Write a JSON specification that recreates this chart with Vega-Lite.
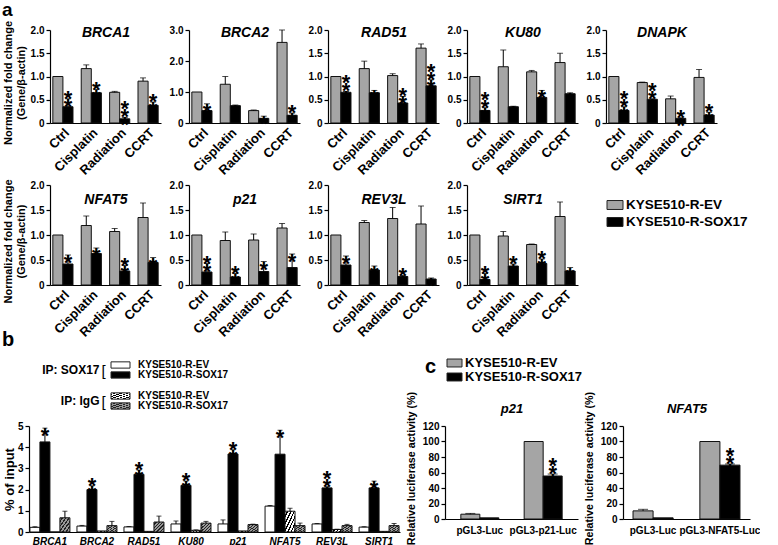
{
"$schema": "https://vega.github.io/schema/vega-lite/v6.json",
"padding": {"left": 2, "top": 1, "right": 0, "bottom": 0},
"title": {"text": "a", "anchor": "start", "fontSize": 19, "fontStyle": "normal", "fontWeight": "bold", "offset": 0, "frame": "bounds"},
"datasets": {
"a": [
{"gene":"BRCA1","treat":"Ctrl","cell":"EV","v":1.0,"hi":1.0,"ns":0},
{"gene":"BRCA1","treat":"Ctrl","cell":"SOX17","v":0.35,"hi":0.52,"ns":2},
{"gene":"BRCA1","treat":"Cisplatin","cell":"EV","v":1.17,"hi":1.25,"ns":0},
{"gene":"BRCA1","treat":"Cisplatin","cell":"SOX17","v":0.65,"hi":0.72,"ns":2},
{"gene":"BRCA1","treat":"Radiation","cell":"EV","v":0.66,"hi":0.68,"ns":0},
{"gene":"BRCA1","treat":"Radiation","cell":"SOX17","v":0.09,"hi":0.12,"ns":3},
{"gene":"BRCA1","treat":"CCRT","cell":"EV","v":0.9,"hi":0.97,"ns":0},
{"gene":"BRCA1","treat":"CCRT","cell":"SOX17","v":0.38,"hi":0.45,"ns":2},
{"gene":"BRCA2","treat":"Ctrl","cell":"EV","v":1.0,"hi":1.0,"ns":0},
{"gene":"BRCA2","treat":"Ctrl","cell":"SOX17","v":0.4,"hi":0.62,"ns":1},
{"gene":"BRCA2","treat":"Cisplatin","cell":"EV","v":1.25,"hi":1.5,"ns":0},
{"gene":"BRCA2","treat":"Cisplatin","cell":"SOX17","v":0.56,"hi":0.58,"ns":1},
{"gene":"BRCA2","treat":"Radiation","cell":"EV","v":0.4,"hi":0.42,"ns":0},
{"gene":"BRCA2","treat":"Radiation","cell":"SOX17","v":0.15,"hi":0.22,"ns":1},
{"gene":"BRCA2","treat":"CCRT","cell":"EV","v":2.6,"hi":3.0,"ns":0},
{"gene":"BRCA2","treat":"CCRT","cell":"SOX17","v":0.25,"hi":0.32,"ns":2},
{"gene":"RAD51","treat":"Ctrl","cell":"EV","v":1.0,"hi":1.0,"ns":0},
{"gene":"RAD51","treat":"Ctrl","cell":"SOX17","v":0.66,"hi":0.68,"ns":3},
{"gene":"RAD51","treat":"Cisplatin","cell":"EV","v":1.17,"hi":1.33,"ns":0},
{"gene":"RAD51","treat":"Cisplatin","cell":"SOX17","v":0.65,"hi":0.7,"ns":1},
{"gene":"RAD51","treat":"Radiation","cell":"EV","v":1.02,"hi":1.06,"ns":0},
{"gene":"RAD51","treat":"Radiation","cell":"SOX17","v":0.43,"hi":0.57,"ns":2},
{"gene":"RAD51","treat":"CCRT","cell":"EV","v":1.61,"hi":1.7,"ns":0},
{"gene":"RAD51","treat":"CCRT","cell":"SOX17","v":0.8,"hi":0.93,"ns":3},
{"gene":"KU80","treat":"Ctrl","cell":"EV","v":1.0,"hi":1.0,"ns":0},
{"gene":"KU80","treat":"Ctrl","cell":"SOX17","v":0.27,"hi":0.33,"ns":3},
{"gene":"KU80","treat":"Cisplatin","cell":"EV","v":1.21,"hi":1.57,"ns":0},
{"gene":"KU80","treat":"Cisplatin","cell":"SOX17","v":0.35,"hi":0.36,"ns":1},
{"gene":"KU80","treat":"Radiation","cell":"EV","v":1.1,"hi":1.13,"ns":0},
{"gene":"KU80","treat":"Radiation","cell":"SOX17","v":0.55,"hi":0.7,"ns":1},
{"gene":"KU80","treat":"CCRT","cell":"EV","v":1.3,"hi":1.5,"ns":0},
{"gene":"KU80","treat":"CCRT","cell":"SOX17","v":0.63,"hi":0.65,"ns":1},
{"gene":"DNAPK","treat":"Ctrl","cell":"EV","v":1.0,"hi":1.0,"ns":0},
{"gene":"DNAPK","treat":"Ctrl","cell":"SOX17","v":0.27,"hi":0.35,"ns":3},
{"gene":"DNAPK","treat":"Cisplatin","cell":"EV","v":0.87,"hi":0.88,"ns":0},
{"gene":"DNAPK","treat":"Cisplatin","cell":"SOX17","v":0.51,"hi":0.52,"ns":3},
{"gene":"DNAPK","treat":"Radiation","cell":"EV","v":0.52,"hi":0.58,"ns":0},
{"gene":"DNAPK","treat":"Radiation","cell":"SOX17","v":0.1,"hi":0.11,"ns":2},
{"gene":"DNAPK","treat":"CCRT","cell":"EV","v":0.98,"hi":1.15,"ns":0},
{"gene":"DNAPK","treat":"CCRT","cell":"SOX17","v":0.17,"hi":0.23,"ns":2},
{"gene":"NFAT5","treat":"Ctrl","cell":"EV","v":1.0,"hi":1.0,"ns":0},
{"gene":"NFAT5","treat":"Ctrl","cell":"SOX17","v":0.42,"hi":0.6,"ns":1},
{"gene":"NFAT5","treat":"Cisplatin","cell":"EV","v":1.19,"hi":1.38,"ns":0},
{"gene":"NFAT5","treat":"Cisplatin","cell":"SOX17","v":0.63,"hi":0.74,"ns":1},
{"gene":"NFAT5","treat":"Radiation","cell":"EV","v":1.07,"hi":1.13,"ns":0},
{"gene":"NFAT5","treat":"Radiation","cell":"SOX17","v":0.28,"hi":0.39,"ns":2},
{"gene":"NFAT5","treat":"CCRT","cell":"EV","v":1.35,"hi":1.64,"ns":0},
{"gene":"NFAT5","treat":"CCRT","cell":"SOX17","v":0.45,"hi":0.55,"ns":1},
{"gene":"p21","treat":"Ctrl","cell":"EV","v":1.0,"hi":1.0,"ns":0},
{"gene":"p21","treat":"Ctrl","cell":"SOX17","v":0.26,"hi":0.43,"ns":2},
{"gene":"p21","treat":"Cisplatin","cell":"EV","v":0.89,"hi":1.06,"ns":0},
{"gene":"p21","treat":"Cisplatin","cell":"SOX17","v":0.16,"hi":0.23,"ns":2},
{"gene":"p21","treat":"Radiation","cell":"EV","v":0.9,"hi":1.02,"ns":0},
{"gene":"p21","treat":"Radiation","cell":"SOX17","v":0.27,"hi":0.47,"ns":1},
{"gene":"p21","treat":"CCRT","cell":"EV","v":1.14,"hi":1.23,"ns":0},
{"gene":"p21","treat":"CCRT","cell":"SOX17","v":0.35,"hi":0.62,"ns":1},
{"gene":"REV3L","treat":"Ctrl","cell":"EV","v":1.0,"hi":1.0,"ns":0},
{"gene":"REV3L","treat":"Ctrl","cell":"SOX17","v":0.4,"hi":0.58,"ns":1},
{"gene":"REV3L","treat":"Cisplatin","cell":"EV","v":1.25,"hi":1.29,"ns":0},
{"gene":"REV3L","treat":"Cisplatin","cell":"SOX17","v":0.3,"hi":0.38,"ns":1},
{"gene":"REV3L","treat":"Radiation","cell":"EV","v":1.33,"hi":1.55,"ns":0},
{"gene":"REV3L","treat":"Radiation","cell":"SOX17","v":0.17,"hi":0.19,"ns":2},
{"gene":"REV3L","treat":"CCRT","cell":"EV","v":1.22,"hi":1.58,"ns":0},
{"gene":"REV3L","treat":"CCRT","cell":"SOX17","v":0.12,"hi":0.14,"ns":1},
{"gene":"SIRT1","treat":"Ctrl","cell":"EV","v":1.0,"hi":1.0,"ns":0},
{"gene":"SIRT1","treat":"Ctrl","cell":"SOX17","v":0.11,"hi":0.23,"ns":2},
{"gene":"SIRT1","treat":"Cisplatin","cell":"EV","v":0.98,"hi":1.07,"ns":0},
{"gene":"SIRT1","treat":"Cisplatin","cell":"SOX17","v":0.38,"hi":0.42,"ns":2},
{"gene":"SIRT1","treat":"Radiation","cell":"EV","v":0.81,"hi":0.82,"ns":0},
{"gene":"SIRT1","treat":"Radiation","cell":"SOX17","v":0.43,"hi":0.52,"ns":2},
{"gene":"SIRT1","treat":"CCRT","cell":"EV","v":1.37,"hi":1.66,"ns":0},
{"gene":"SIRT1","treat":"CCRT","cell":"SOX17","v":0.28,"hi":0.35,"ns":1}
],
"b": [
{"gene":"BRCA1","s":"SOX17-EV","v":0.22,"hi":0.25,"ns":0},
{"gene":"BRCA1","s":"SOX17-SOX17","v":4.25,"hi":4.9,"ns":1},
{"gene":"BRCA1","s":"IgG-EV","v":0.0,"hi":0.0,"ns":0},
{"gene":"BRCA1","s":"IgG-SOX17","v":0.67,"hi":0.98,"ns":0},
{"gene":"BRCA2","s":"SOX17-EV","v":0.28,"hi":0.31,"ns":0},
{"gene":"BRCA2","s":"SOX17-SOX17","v":2.0,"hi":2.18,"ns":2},
{"gene":"BRCA2","s":"IgG-EV","v":0.05,"hi":0.05,"ns":0},
{"gene":"BRCA2","s":"IgG-SOX17","v":0.3,"hi":0.5,"ns":0},
{"gene":"RAD51","s":"SOX17-EV","v":0.24,"hi":0.26,"ns":0},
{"gene":"RAD51","s":"SOX17-SOX17","v":2.72,"hi":2.92,"ns":2},
{"gene":"RAD51","s":"IgG-EV","v":0.03,"hi":0.03,"ns":0},
{"gene":"RAD51","s":"IgG-SOX17","v":0.47,"hi":0.75,"ns":0},
{"gene":"KU80","s":"SOX17-EV","v":0.38,"hi":0.52,"ns":0},
{"gene":"KU80","s":"SOX17-SOX17","v":2.2,"hi":2.4,"ns":2},
{"gene":"KU80","s":"IgG-EV","v":0.08,"hi":0.1,"ns":0},
{"gene":"KU80","s":"IgG-SOX17","v":0.42,"hi":0.5,"ns":0},
{"gene":"p21","s":"SOX17-EV","v":0.38,"hi":0.57,"ns":0},
{"gene":"p21","s":"SOX17-SOX17","v":3.68,"hi":3.88,"ns":2},
{"gene":"p21","s":"IgG-EV","v":0.05,"hi":0.05,"ns":0},
{"gene":"p21","s":"IgG-SOX17","v":0.35,"hi":0.37,"ns":0},
{"gene":"NFAT5","s":"SOX17-EV","v":1.22,"hi":1.25,"ns":0},
{"gene":"NFAT5","s":"SOX17-SOX17","v":3.67,"hi":4.8,"ns":1},
{"gene":"NFAT5","s":"IgG-EV","v":0.98,"hi":1.12,"ns":0},
{"gene":"NFAT5","s":"IgG-SOX17","v":0.3,"hi":0.42,"ns":0},
{"gene":"REV3L","s":"SOX17-EV","v":0.38,"hi":0.4,"ns":0},
{"gene":"REV3L","s":"SOX17-SOX17","v":2.08,"hi":2.14,"ns":3},
{"gene":"REV3L","s":"IgG-EV","v":0.12,"hi":0.13,"ns":0},
{"gene":"REV3L","s":"IgG-SOX17","v":0.3,"hi":0.36,"ns":0},
{"gene":"SIRT1","s":"SOX17-EV","v":0.23,"hi":0.25,"ns":0},
{"gene":"SIRT1","s":"SOX17-SOX17","v":2.08,"hi":2.4,"ns":1},
{"gene":"SIRT1","s":"IgG-EV","v":0.03,"hi":0.03,"ns":0},
{"gene":"SIRT1","s":"IgG-SOX17","v":0.3,"hi":0.4,"ns":0}
],
"c": [
{"panel":"p21","plasmid":"pGL3-Luc","cell":"EV","v":6.2,"hi":7.2,"ns":0},
{"panel":"p21","plasmid":"pGL3-Luc","cell":"SOX17","v":1.5,"hi":1.5,"ns":0},
{"panel":"p21","plasmid":"pGL3-p21-Luc","cell":"EV","v":100,"hi":100,"ns":0},
{"panel":"p21","plasmid":"pGL3-p21-Luc","cell":"SOX17","v":55.5,"hi":58,"ns":3},
{"panel":"NFAT5","plasmid":"pGL3-Luc","cell":"EV","v":10.5,"hi":12.5,"ns":0},
{"panel":"NFAT5","plasmid":"pGL3-Luc","cell":"SOX17","v":1.5,"hi":1.5,"ns":0},
{"panel":"NFAT5","plasmid":"pGL3-NFAT5-Luc","cell":"EV","v":100,"hi":100,"ns":0},
{"panel":"NFAT5","plasmid":"pGL3-NFAT5-Luc","cell":"SOX17","v":69.5,"hi":71,"ns":3}
],
"lega": [
{"cell":"EV","label":"KYSE510-R-EV"},
{"cell":"SOX17","label":"KYSE510-R-SOX17"}
],
"legb": [
{"ip":"IP: SOX17","cell":"EV","s":"SOX17-EV","label":"KYSE510-R-EV"},
{"ip":"IP: SOX17","cell":"SOX17","s":"SOX17-SOX17","label":"KYSE510-R-SOX17"},
{"ip":"IP: IgG","cell":"EV","s":"IgG-EV","label":"KYSE510-R-EV"},
{"ip":"IP: IgG","cell":"SOX17","s":"IgG-SOX17","label":"KYSE510-R-SOX17"}
]
},
"resolve": {"scale": {"xOffset": "independent", "yOffset": "independent"}},
"spacing": -10,
"vconcat": [
{
"spacing": 0,
"resolve": {"scale": {"xOffset": "independent", "yOffset": "independent"}},
"vconcat": [
{
"bounds": "flush", "spacing": 28,
"resolve": {"scale": {"xOffset": "independent", "yOffset": "independent"}},
"hconcat": [
{"width":111,"height":93,"data":{"name":"a"},"transform":[{"filter":"datum.gene === 'BRCA1'"}],"resolve":{"axis":{"x":"independent"}},
"encoding":{"x":{"field":"treat","type":"nominal","sort":["Ctrl","Cisplatin","Radiation","CCRT"],"scale":{"paddingInner":0.29,"paddingOuter":0.1},"axis":null},"xOffset":{"field":"cell","type":"nominal","sort":["EV","SOX17"]}},
"layer":[
{"mark":{"type":"bar","stroke":"#111","strokeWidth":1},"encoding":{"x":{"field":"treat","type":"nominal","sort":["Ctrl","Cisplatin","Radiation","CCRT"],"scale":{"paddingInner":0.29,"paddingOuter":0.1},"title":null,"axis":{"orient":"bottom","labels":true,"domain":true,"labelAngle":-45}},"y":{"field":"v","type":"quantitative","scale":{"domain":[0,2]},"axis":{"values":[0,0.5,1,1.5,2],"tickCount":10,"labelOverlap":false,"labelExpr":"datum.value === 0 ? '0' : format(datum.value, '.1f')","titleY":52.5},"title":["Normalized fold change","(Gene/β-actin)"]},"color":{"field":"cell","type":"nominal","scale":{"domain":["EV","SOX17"],"range":["#a5a5a5","#000000"]},"legend":null}}},
{"transform":[{"filter":"datum.hi > datum.v"}],"mark":{"type":"rule","color":"#000"},"encoding":{"x":{"field":"treat","type":"nominal","sort":["Ctrl","Cisplatin","Radiation","CCRT"],"scale":{"paddingInner":0.29,"paddingOuter":0.1},"title":"BRCA1","axis":{"orient":"top","labels":false,"ticks":false,"domain":false,"titleY":6}},"y":{"field":"v","type":"quantitative","axis":{"values":[0,0.5,1,1.5,2],"tickCount":10,"labelOverlap":false,"labelExpr":"datum.value === 0 ? '0' : format(datum.value, '.1f')","titleY":52.5}},"y2":{"field":"hi"}}},
{"transform":[{"filter":"datum.hi > datum.v"}],"mark":{"type":"tick","color":"#000","thickness":1,"size":6},"encoding":{"y":{"field":"hi","type":"quantitative","axis":{"values":[0,0.5,1,1.5,2],"tickCount":10,"labelOverlap":false,"labelExpr":"datum.value === 0 ? '0' : format(datum.value, '.1f')","titleY":52.5}}}},
{"transform":[{"filter":"datum.ns >= 1"}],"mark":{"type":"text","fill":"#000","fontSize":22,"fontWeight":"bold","dy":8},"encoding":{"y":{"field":"hi","type":"quantitative","axis":{"values":[0,0.5,1,1.5,2],"tickCount":10,"labelOverlap":false,"labelExpr":"datum.value === 0 ? '0' : format(datum.value, '.1f')","titleY":52.5}},"text":{"value":"*"}}},
{"transform":[{"filter":"datum.ns >= 2"}],"mark":{"type":"text","fill":"#000","fontSize":22,"fontWeight":"bold","dy":0},"encoding":{"y":{"field":"hi","type":"quantitative","axis":{"values":[0,0.5,1,1.5,2],"tickCount":10,"labelOverlap":false,"labelExpr":"datum.value === 0 ? '0' : format(datum.value, '.1f')","titleY":52.5}},"text":{"value":"*"}}},
{"transform":[{"filter":"datum.ns >= 3"}],"mark":{"type":"text","fill":"#000","fontSize":22,"fontWeight":"bold","dy":-8},"encoding":{"y":{"field":"hi","type":"quantitative","axis":{"values":[0,0.5,1,1.5,2],"tickCount":10,"labelOverlap":false,"labelExpr":"datum.value === 0 ? '0' : format(datum.value, '.1f')","titleY":52.5}},"text":{"value":"*"}}}
]},
{"width":111,"height":93,"data":{"name":"a"},"transform":[{"filter":"datum.gene === 'BRCA2'"}],"resolve":{"axis":{"x":"independent"}},
"encoding":{"x":{"field":"treat","type":"nominal","sort":["Ctrl","Cisplatin","Radiation","CCRT"],"scale":{"paddingInner":0.29,"paddingOuter":0.1},"axis":null},"xOffset":{"field":"cell","type":"nominal","sort":["EV","SOX17"]}},
"layer":[
{"mark":{"type":"bar","stroke":"#111","strokeWidth":1},"encoding":{"x":{"field":"treat","type":"nominal","sort":["Ctrl","Cisplatin","Radiation","CCRT"],"scale":{"paddingInner":0.29,"paddingOuter":0.1},"title":null,"axis":{"orient":"bottom","labels":true,"domain":true,"labelAngle":-45}},"y":{"field":"v","type":"quantitative","scale":{"domain":[0,3]},"axis":{"values":[0,1,2,3],"tickCount":10,"labelOverlap":false,"labelExpr":"datum.value === 0 ? '0' : format(datum.value, '.1f')"},"title":null},"color":{"field":"cell","type":"nominal","scale":{"domain":["EV","SOX17"],"range":["#a5a5a5","#000000"]},"legend":null}}},
{"transform":[{"filter":"datum.hi > datum.v"}],"mark":{"type":"rule","color":"#000"},"encoding":{"x":{"field":"treat","type":"nominal","sort":["Ctrl","Cisplatin","Radiation","CCRT"],"scale":{"paddingInner":0.29,"paddingOuter":0.1},"title":"BRCA2","axis":{"orient":"top","labels":false,"ticks":false,"domain":false,"titleY":6}},"y":{"field":"v","type":"quantitative","axis":{"values":[0,1,2,3],"tickCount":10,"labelOverlap":false,"labelExpr":"datum.value === 0 ? '0' : format(datum.value, '.1f')"},"title":null},"y2":{"field":"hi"}}},
{"transform":[{"filter":"datum.hi > datum.v"}],"mark":{"type":"tick","color":"#000","thickness":1,"size":6},"encoding":{"y":{"field":"hi","type":"quantitative","axis":{"values":[0,1,2,3],"tickCount":10,"labelOverlap":false,"labelExpr":"datum.value === 0 ? '0' : format(datum.value, '.1f')"},"title":null}}},
{"transform":[{"filter":"datum.ns >= 1"}],"mark":{"type":"text","fill":"#000","fontSize":22,"fontWeight":"bold","dy":8},"encoding":{"y":{"field":"hi","type":"quantitative","axis":{"values":[0,1,2,3],"tickCount":10,"labelOverlap":false,"labelExpr":"datum.value === 0 ? '0' : format(datum.value, '.1f')"},"title":null},"text":{"value":"*"}}},
{"transform":[{"filter":"datum.ns >= 2"}],"mark":{"type":"text","fill":"#000","fontSize":22,"fontWeight":"bold","dy":0},"encoding":{"y":{"field":"hi","type":"quantitative","axis":{"values":[0,1,2,3],"tickCount":10,"labelOverlap":false,"labelExpr":"datum.value === 0 ? '0' : format(datum.value, '.1f')"},"title":null},"text":{"value":"*"}}},
{"transform":[{"filter":"datum.ns >= 3"}],"mark":{"type":"text","fill":"#000","fontSize":22,"fontWeight":"bold","dy":-8},"encoding":{"y":{"field":"hi","type":"quantitative","axis":{"values":[0,1,2,3],"tickCount":10,"labelOverlap":false,"labelExpr":"datum.value === 0 ? '0' : format(datum.value, '.1f')"},"title":null},"text":{"value":"*"}}}
]},
{"width":111,"height":93,"data":{"name":"a"},"transform":[{"filter":"datum.gene === 'RAD51'"}],"resolve":{"axis":{"x":"independent"}},
"encoding":{"x":{"field":"treat","type":"nominal","sort":["Ctrl","Cisplatin","Radiation","CCRT"],"scale":{"paddingInner":0.29,"paddingOuter":0.1},"axis":null},"xOffset":{"field":"cell","type":"nominal","sort":["EV","SOX17"]}},
"layer":[
{"mark":{"type":"bar","stroke":"#111","strokeWidth":1},"encoding":{"x":{"field":"treat","type":"nominal","sort":["Ctrl","Cisplatin","Radiation","CCRT"],"scale":{"paddingInner":0.29,"paddingOuter":0.1},"title":null,"axis":{"orient":"bottom","labels":true,"domain":true,"labelAngle":-45}},"y":{"field":"v","type":"quantitative","scale":{"domain":[0,2]},"axis":{"values":[0,0.5,1,1.5,2],"tickCount":10,"labelOverlap":false,"labelExpr":"datum.value === 0 ? '0' : format(datum.value, '.1f')"},"title":null},"color":{"field":"cell","type":"nominal","scale":{"domain":["EV","SOX17"],"range":["#a5a5a5","#000000"]},"legend":null}}},
{"transform":[{"filter":"datum.hi > datum.v"}],"mark":{"type":"rule","color":"#000"},"encoding":{"x":{"field":"treat","type":"nominal","sort":["Ctrl","Cisplatin","Radiation","CCRT"],"scale":{"paddingInner":0.29,"paddingOuter":0.1},"title":"RAD51","axis":{"orient":"top","labels":false,"ticks":false,"domain":false,"titleY":6}},"y":{"field":"v","type":"quantitative","axis":{"values":[0,0.5,1,1.5,2],"tickCount":10,"labelOverlap":false,"labelExpr":"datum.value === 0 ? '0' : format(datum.value, '.1f')"},"title":null},"y2":{"field":"hi"}}},
{"transform":[{"filter":"datum.hi > datum.v"}],"mark":{"type":"tick","color":"#000","thickness":1,"size":6},"encoding":{"y":{"field":"hi","type":"quantitative","axis":{"values":[0,0.5,1,1.5,2],"tickCount":10,"labelOverlap":false,"labelExpr":"datum.value === 0 ? '0' : format(datum.value, '.1f')"},"title":null}}},
{"transform":[{"filter":"datum.ns >= 1"}],"mark":{"type":"text","fill":"#000","fontSize":22,"fontWeight":"bold","dy":8},"encoding":{"y":{"field":"hi","type":"quantitative","axis":{"values":[0,0.5,1,1.5,2],"tickCount":10,"labelOverlap":false,"labelExpr":"datum.value === 0 ? '0' : format(datum.value, '.1f')"},"title":null},"text":{"value":"*"}}},
{"transform":[{"filter":"datum.ns >= 2"}],"mark":{"type":"text","fill":"#000","fontSize":22,"fontWeight":"bold","dy":0},"encoding":{"y":{"field":"hi","type":"quantitative","axis":{"values":[0,0.5,1,1.5,2],"tickCount":10,"labelOverlap":false,"labelExpr":"datum.value === 0 ? '0' : format(datum.value, '.1f')"},"title":null},"text":{"value":"*"}}},
{"transform":[{"filter":"datum.ns >= 3"}],"mark":{"type":"text","fill":"#000","fontSize":22,"fontWeight":"bold","dy":-8},"encoding":{"y":{"field":"hi","type":"quantitative","axis":{"values":[0,0.5,1,1.5,2],"tickCount":10,"labelOverlap":false,"labelExpr":"datum.value === 0 ? '0' : format(datum.value, '.1f')"},"title":null},"text":{"value":"*"}}}
]},
{"width":111,"height":93,"data":{"name":"a"},"transform":[{"filter":"datum.gene === 'KU80'"}],"resolve":{"axis":{"x":"independent"}},
"encoding":{"x":{"field":"treat","type":"nominal","sort":["Ctrl","Cisplatin","Radiation","CCRT"],"scale":{"paddingInner":0.29,"paddingOuter":0.1},"axis":null},"xOffset":{"field":"cell","type":"nominal","sort":["EV","SOX17"]}},
"layer":[
{"mark":{"type":"bar","stroke":"#111","strokeWidth":1},"encoding":{"x":{"field":"treat","type":"nominal","sort":["Ctrl","Cisplatin","Radiation","CCRT"],"scale":{"paddingInner":0.29,"paddingOuter":0.1},"title":null,"axis":{"orient":"bottom","labels":true,"domain":true,"labelAngle":-45}},"y":{"field":"v","type":"quantitative","scale":{"domain":[0,2]},"axis":{"values":[0,0.5,1,1.5,2],"tickCount":10,"labelOverlap":false,"labelExpr":"datum.value === 0 ? '0' : format(datum.value, '.1f')"},"title":null},"color":{"field":"cell","type":"nominal","scale":{"domain":["EV","SOX17"],"range":["#a5a5a5","#000000"]},"legend":null}}},
{"transform":[{"filter":"datum.hi > datum.v"}],"mark":{"type":"rule","color":"#000"},"encoding":{"x":{"field":"treat","type":"nominal","sort":["Ctrl","Cisplatin","Radiation","CCRT"],"scale":{"paddingInner":0.29,"paddingOuter":0.1},"title":"KU80","axis":{"orient":"top","labels":false,"ticks":false,"domain":false,"titleY":6}},"y":{"field":"v","type":"quantitative","axis":{"values":[0,0.5,1,1.5,2],"tickCount":10,"labelOverlap":false,"labelExpr":"datum.value === 0 ? '0' : format(datum.value, '.1f')"},"title":null},"y2":{"field":"hi"}}},
{"transform":[{"filter":"datum.hi > datum.v"}],"mark":{"type":"tick","color":"#000","thickness":1,"size":6},"encoding":{"y":{"field":"hi","type":"quantitative","axis":{"values":[0,0.5,1,1.5,2],"tickCount":10,"labelOverlap":false,"labelExpr":"datum.value === 0 ? '0' : format(datum.value, '.1f')"},"title":null}}},
{"transform":[{"filter":"datum.ns >= 1"}],"mark":{"type":"text","fill":"#000","fontSize":22,"fontWeight":"bold","dy":8},"encoding":{"y":{"field":"hi","type":"quantitative","axis":{"values":[0,0.5,1,1.5,2],"tickCount":10,"labelOverlap":false,"labelExpr":"datum.value === 0 ? '0' : format(datum.value, '.1f')"},"title":null},"text":{"value":"*"}}},
{"transform":[{"filter":"datum.ns >= 2"}],"mark":{"type":"text","fill":"#000","fontSize":22,"fontWeight":"bold","dy":0},"encoding":{"y":{"field":"hi","type":"quantitative","axis":{"values":[0,0.5,1,1.5,2],"tickCount":10,"labelOverlap":false,"labelExpr":"datum.value === 0 ? '0' : format(datum.value, '.1f')"},"title":null},"text":{"value":"*"}}},
{"transform":[{"filter":"datum.ns >= 3"}],"mark":{"type":"text","fill":"#000","fontSize":22,"fontWeight":"bold","dy":-8},"encoding":{"y":{"field":"hi","type":"quantitative","axis":{"values":[0,0.5,1,1.5,2],"tickCount":10,"labelOverlap":false,"labelExpr":"datum.value === 0 ? '0' : format(datum.value, '.1f')"},"title":null},"text":{"value":"*"}}}
]},
{"width":111,"height":93,"data":{"name":"a"},"transform":[{"filter":"datum.gene === 'DNAPK'"}],"resolve":{"axis":{"x":"independent"}},
"encoding":{"x":{"field":"treat","type":"nominal","sort":["Ctrl","Cisplatin","Radiation","CCRT"],"scale":{"paddingInner":0.29,"paddingOuter":0.1},"axis":null},"xOffset":{"field":"cell","type":"nominal","sort":["EV","SOX17"]}},
"layer":[
{"mark":{"type":"bar","stroke":"#111","strokeWidth":1},"encoding":{"x":{"field":"treat","type":"nominal","sort":["Ctrl","Cisplatin","Radiation","CCRT"],"scale":{"paddingInner":0.29,"paddingOuter":0.1},"title":null,"axis":{"orient":"bottom","labels":true,"domain":true,"labelAngle":-45}},"y":{"field":"v","type":"quantitative","scale":{"domain":[0,2]},"axis":{"values":[0,0.5,1,1.5,2],"tickCount":10,"labelOverlap":false,"labelExpr":"datum.value === 0 ? '0' : format(datum.value, '.1f')"},"title":null},"color":{"field":"cell","type":"nominal","scale":{"domain":["EV","SOX17"],"range":["#a5a5a5","#000000"]},"legend":null}}},
{"transform":[{"filter":"datum.hi > datum.v"}],"mark":{"type":"rule","color":"#000"},"encoding":{"x":{"field":"treat","type":"nominal","sort":["Ctrl","Cisplatin","Radiation","CCRT"],"scale":{"paddingInner":0.29,"paddingOuter":0.1},"title":"DNAPK","axis":{"orient":"top","labels":false,"ticks":false,"domain":false,"titleY":6}},"y":{"field":"v","type":"quantitative","axis":{"values":[0,0.5,1,1.5,2],"tickCount":10,"labelOverlap":false,"labelExpr":"datum.value === 0 ? '0' : format(datum.value, '.1f')"},"title":null},"y2":{"field":"hi"}}},
{"transform":[{"filter":"datum.hi > datum.v"}],"mark":{"type":"tick","color":"#000","thickness":1,"size":6},"encoding":{"y":{"field":"hi","type":"quantitative","axis":{"values":[0,0.5,1,1.5,2],"tickCount":10,"labelOverlap":false,"labelExpr":"datum.value === 0 ? '0' : format(datum.value, '.1f')"},"title":null}}},
{"transform":[{"filter":"datum.ns >= 1"}],"mark":{"type":"text","fill":"#000","fontSize":22,"fontWeight":"bold","dy":8},"encoding":{"y":{"field":"hi","type":"quantitative","axis":{"values":[0,0.5,1,1.5,2],"tickCount":10,"labelOverlap":false,"labelExpr":"datum.value === 0 ? '0' : format(datum.value, '.1f')"},"title":null},"text":{"value":"*"}}},
{"transform":[{"filter":"datum.ns >= 2"}],"mark":{"type":"text","fill":"#000","fontSize":22,"fontWeight":"bold","dy":0},"encoding":{"y":{"field":"hi","type":"quantitative","axis":{"values":[0,0.5,1,1.5,2],"tickCount":10,"labelOverlap":false,"labelExpr":"datum.value === 0 ? '0' : format(datum.value, '.1f')"},"title":null},"text":{"value":"*"}}},
{"transform":[{"filter":"datum.ns >= 3"}],"mark":{"type":"text","fill":"#000","fontSize":22,"fontWeight":"bold","dy":-8},"encoding":{"y":{"field":"hi","type":"quantitative","axis":{"values":[0,0.5,1,1.5,2],"tickCount":10,"labelOverlap":false,"labelExpr":"datum.value === 0 ? '0' : format(datum.value, '.1f')"},"title":null},"text":{"value":"*"}}}
]}
]
},
{
"bounds": "flush", "spacing": 28,
"resolve": {"scale": {"xOffset": "independent", "yOffset": "independent"}},
"hconcat": [
{"width":111,"height":100,"data":{"name":"a"},"transform":[{"filter":"datum.gene === 'NFAT5'"}],"resolve":{"axis":{"x":"independent"}},
"encoding":{"x":{"field":"treat","type":"nominal","sort":["Ctrl","Cisplatin","Radiation","CCRT"],"scale":{"paddingInner":0.29,"paddingOuter":0.1},"axis":null},"xOffset":{"field":"cell","type":"nominal","sort":["EV","SOX17"]}},
"layer":[
{"mark":{"type":"bar","stroke":"#111","strokeWidth":1},"encoding":{"x":{"field":"treat","type":"nominal","sort":["Ctrl","Cisplatin","Radiation","CCRT"],"scale":{"paddingInner":0.29,"paddingOuter":0.1},"title":null,"axis":{"orient":"bottom","labels":true,"domain":true,"labelAngle":-45}},"y":{"field":"v","type":"quantitative","scale":{"domain":[0,2]},"axis":{"values":[0,0.5,1,1.5,2],"tickCount":10,"labelOverlap":false,"labelExpr":"datum.value === 0 ? '0' : format(datum.value, '.1f')","titleY":56},"title":["Normalized fold change","(Gene/β-actin)"]},"color":{"field":"cell","type":"nominal","scale":{"domain":["EV","SOX17"],"range":["#a5a5a5","#000000"]},"legend":null}}},
{"transform":[{"filter":"datum.hi > datum.v"}],"mark":{"type":"rule","color":"#000"},"encoding":{"x":{"field":"treat","type":"nominal","sort":["Ctrl","Cisplatin","Radiation","CCRT"],"scale":{"paddingInner":0.29,"paddingOuter":0.1},"title":"NFAT5","axis":{"orient":"top","labels":false,"ticks":false,"domain":false,"titleY":18}},"y":{"field":"v","type":"quantitative","axis":{"values":[0,0.5,1,1.5,2],"tickCount":10,"labelOverlap":false,"labelExpr":"datum.value === 0 ? '0' : format(datum.value, '.1f')","titleY":56}},"y2":{"field":"hi"}}},
{"transform":[{"filter":"datum.hi > datum.v"}],"mark":{"type":"tick","color":"#000","thickness":1,"size":6},"encoding":{"y":{"field":"hi","type":"quantitative","axis":{"values":[0,0.5,1,1.5,2],"tickCount":10,"labelOverlap":false,"labelExpr":"datum.value === 0 ? '0' : format(datum.value, '.1f')","titleY":56}}}},
{"transform":[{"filter":"datum.ns >= 1"}],"mark":{"type":"text","fill":"#000","fontSize":22,"fontWeight":"bold","dy":8},"encoding":{"y":{"field":"hi","type":"quantitative","axis":{"values":[0,0.5,1,1.5,2],"tickCount":10,"labelOverlap":false,"labelExpr":"datum.value === 0 ? '0' : format(datum.value, '.1f')","titleY":56}},"text":{"value":"*"}}},
{"transform":[{"filter":"datum.ns >= 2"}],"mark":{"type":"text","fill":"#000","fontSize":22,"fontWeight":"bold","dy":0},"encoding":{"y":{"field":"hi","type":"quantitative","axis":{"values":[0,0.5,1,1.5,2],"tickCount":10,"labelOverlap":false,"labelExpr":"datum.value === 0 ? '0' : format(datum.value, '.1f')","titleY":56}},"text":{"value":"*"}}},
{"transform":[{"filter":"datum.ns >= 3"}],"mark":{"type":"text","fill":"#000","fontSize":22,"fontWeight":"bold","dy":-8},"encoding":{"y":{"field":"hi","type":"quantitative","axis":{"values":[0,0.5,1,1.5,2],"tickCount":10,"labelOverlap":false,"labelExpr":"datum.value === 0 ? '0' : format(datum.value, '.1f')","titleY":56}},"text":{"value":"*"}}}
]},
{"width":111,"height":100,"data":{"name":"a"},"transform":[{"filter":"datum.gene === 'p21'"}],"resolve":{"axis":{"x":"independent"}},
"encoding":{"x":{"field":"treat","type":"nominal","sort":["Ctrl","Cisplatin","Radiation","CCRT"],"scale":{"paddingInner":0.29,"paddingOuter":0.1},"axis":null},"xOffset":{"field":"cell","type":"nominal","sort":["EV","SOX17"]}},
"layer":[
{"mark":{"type":"bar","stroke":"#111","strokeWidth":1},"encoding":{"x":{"field":"treat","type":"nominal","sort":["Ctrl","Cisplatin","Radiation","CCRT"],"scale":{"paddingInner":0.29,"paddingOuter":0.1},"title":null,"axis":{"orient":"bottom","labels":true,"domain":true,"labelAngle":-45}},"y":{"field":"v","type":"quantitative","scale":{"domain":[0,2]},"axis":{"values":[0,0.5,1,1.5,2],"tickCount":10,"labelOverlap":false,"labelExpr":"datum.value === 0 ? '0' : format(datum.value, '.1f')"},"title":null},"color":{"field":"cell","type":"nominal","scale":{"domain":["EV","SOX17"],"range":["#a5a5a5","#000000"]},"legend":null}}},
{"transform":[{"filter":"datum.hi > datum.v"}],"mark":{"type":"rule","color":"#000"},"encoding":{"x":{"field":"treat","type":"nominal","sort":["Ctrl","Cisplatin","Radiation","CCRT"],"scale":{"paddingInner":0.29,"paddingOuter":0.1},"title":"p21","axis":{"orient":"top","labels":false,"ticks":false,"domain":false,"titleY":18}},"y":{"field":"v","type":"quantitative","axis":{"values":[0,0.5,1,1.5,2],"tickCount":10,"labelOverlap":false,"labelExpr":"datum.value === 0 ? '0' : format(datum.value, '.1f')"},"title":null},"y2":{"field":"hi"}}},
{"transform":[{"filter":"datum.hi > datum.v"}],"mark":{"type":"tick","color":"#000","thickness":1,"size":6},"encoding":{"y":{"field":"hi","type":"quantitative","axis":{"values":[0,0.5,1,1.5,2],"tickCount":10,"labelOverlap":false,"labelExpr":"datum.value === 0 ? '0' : format(datum.value, '.1f')"},"title":null}}},
{"transform":[{"filter":"datum.ns >= 1"}],"mark":{"type":"text","fill":"#000","fontSize":22,"fontWeight":"bold","dy":8},"encoding":{"y":{"field":"hi","type":"quantitative","axis":{"values":[0,0.5,1,1.5,2],"tickCount":10,"labelOverlap":false,"labelExpr":"datum.value === 0 ? '0' : format(datum.value, '.1f')"},"title":null},"text":{"value":"*"}}},
{"transform":[{"filter":"datum.ns >= 2"}],"mark":{"type":"text","fill":"#000","fontSize":22,"fontWeight":"bold","dy":0},"encoding":{"y":{"field":"hi","type":"quantitative","axis":{"values":[0,0.5,1,1.5,2],"tickCount":10,"labelOverlap":false,"labelExpr":"datum.value === 0 ? '0' : format(datum.value, '.1f')"},"title":null},"text":{"value":"*"}}},
{"transform":[{"filter":"datum.ns >= 3"}],"mark":{"type":"text","fill":"#000","fontSize":22,"fontWeight":"bold","dy":-8},"encoding":{"y":{"field":"hi","type":"quantitative","axis":{"values":[0,0.5,1,1.5,2],"tickCount":10,"labelOverlap":false,"labelExpr":"datum.value === 0 ? '0' : format(datum.value, '.1f')"},"title":null},"text":{"value":"*"}}}
]},
{"width":111,"height":100,"data":{"name":"a"},"transform":[{"filter":"datum.gene === 'REV3L'"}],"resolve":{"axis":{"x":"independent"}},
"encoding":{"x":{"field":"treat","type":"nominal","sort":["Ctrl","Cisplatin","Radiation","CCRT"],"scale":{"paddingInner":0.29,"paddingOuter":0.1},"axis":null},"xOffset":{"field":"cell","type":"nominal","sort":["EV","SOX17"]}},
"layer":[
{"mark":{"type":"bar","stroke":"#111","strokeWidth":1},"encoding":{"x":{"field":"treat","type":"nominal","sort":["Ctrl","Cisplatin","Radiation","CCRT"],"scale":{"paddingInner":0.29,"paddingOuter":0.1},"title":null,"axis":{"orient":"bottom","labels":true,"domain":true,"labelAngle":-45}},"y":{"field":"v","type":"quantitative","scale":{"domain":[0,2]},"axis":{"values":[0,0.5,1,1.5,2],"tickCount":10,"labelOverlap":false,"labelExpr":"datum.value === 0 ? '0' : format(datum.value, '.1f')"},"title":null},"color":{"field":"cell","type":"nominal","scale":{"domain":["EV","SOX17"],"range":["#a5a5a5","#000000"]},"legend":null}}},
{"transform":[{"filter":"datum.hi > datum.v"}],"mark":{"type":"rule","color":"#000"},"encoding":{"x":{"field":"treat","type":"nominal","sort":["Ctrl","Cisplatin","Radiation","CCRT"],"scale":{"paddingInner":0.29,"paddingOuter":0.1},"title":"REV3L","axis":{"orient":"top","labels":false,"ticks":false,"domain":false,"titleY":18}},"y":{"field":"v","type":"quantitative","axis":{"values":[0,0.5,1,1.5,2],"tickCount":10,"labelOverlap":false,"labelExpr":"datum.value === 0 ? '0' : format(datum.value, '.1f')"},"title":null},"y2":{"field":"hi"}}},
{"transform":[{"filter":"datum.hi > datum.v"}],"mark":{"type":"tick","color":"#000","thickness":1,"size":6},"encoding":{"y":{"field":"hi","type":"quantitative","axis":{"values":[0,0.5,1,1.5,2],"tickCount":10,"labelOverlap":false,"labelExpr":"datum.value === 0 ? '0' : format(datum.value, '.1f')"},"title":null}}},
{"transform":[{"filter":"datum.ns >= 1"}],"mark":{"type":"text","fill":"#000","fontSize":22,"fontWeight":"bold","dy":8},"encoding":{"y":{"field":"hi","type":"quantitative","axis":{"values":[0,0.5,1,1.5,2],"tickCount":10,"labelOverlap":false,"labelExpr":"datum.value === 0 ? '0' : format(datum.value, '.1f')"},"title":null},"text":{"value":"*"}}},
{"transform":[{"filter":"datum.ns >= 2"}],"mark":{"type":"text","fill":"#000","fontSize":22,"fontWeight":"bold","dy":0},"encoding":{"y":{"field":"hi","type":"quantitative","axis":{"values":[0,0.5,1,1.5,2],"tickCount":10,"labelOverlap":false,"labelExpr":"datum.value === 0 ? '0' : format(datum.value, '.1f')"},"title":null},"text":{"value":"*"}}},
{"transform":[{"filter":"datum.ns >= 3"}],"mark":{"type":"text","fill":"#000","fontSize":22,"fontWeight":"bold","dy":-8},"encoding":{"y":{"field":"hi","type":"quantitative","axis":{"values":[0,0.5,1,1.5,2],"tickCount":10,"labelOverlap":false,"labelExpr":"datum.value === 0 ? '0' : format(datum.value, '.1f')"},"title":null},"text":{"value":"*"}}}
]},
{"width":111,"height":100,"data":{"name":"a"},"transform":[{"filter":"datum.gene === 'SIRT1'"}],"resolve":{"axis":{"x":"independent"}},
"encoding":{"x":{"field":"treat","type":"nominal","sort":["Ctrl","Cisplatin","Radiation","CCRT"],"scale":{"paddingInner":0.29,"paddingOuter":0.1},"axis":null},"xOffset":{"field":"cell","type":"nominal","sort":["EV","SOX17"]}},
"layer":[
{"mark":{"type":"bar","stroke":"#111","strokeWidth":1},"encoding":{"x":{"field":"treat","type":"nominal","sort":["Ctrl","Cisplatin","Radiation","CCRT"],"scale":{"paddingInner":0.29,"paddingOuter":0.1},"title":null,"axis":{"orient":"bottom","labels":true,"domain":true,"labelAngle":-45}},"y":{"field":"v","type":"quantitative","scale":{"domain":[0,2]},"axis":{"values":[0,0.5,1,1.5,2],"tickCount":10,"labelOverlap":false,"labelExpr":"datum.value === 0 ? '0' : format(datum.value, '.1f')"},"title":null},"color":{"field":"cell","type":"nominal","scale":{"domain":["EV","SOX17"],"range":["#a5a5a5","#000000"]},"legend":null}}},
{"transform":[{"filter":"datum.hi > datum.v"}],"mark":{"type":"rule","color":"#000"},"encoding":{"x":{"field":"treat","type":"nominal","sort":["Ctrl","Cisplatin","Radiation","CCRT"],"scale":{"paddingInner":0.29,"paddingOuter":0.1},"title":"SIRT1","axis":{"orient":"top","labels":false,"ticks":false,"domain":false,"titleY":18}},"y":{"field":"v","type":"quantitative","axis":{"values":[0,0.5,1,1.5,2],"tickCount":10,"labelOverlap":false,"labelExpr":"datum.value === 0 ? '0' : format(datum.value, '.1f')"},"title":null},"y2":{"field":"hi"}}},
{"transform":[{"filter":"datum.hi > datum.v"}],"mark":{"type":"tick","color":"#000","thickness":1,"size":6},"encoding":{"y":{"field":"hi","type":"quantitative","axis":{"values":[0,0.5,1,1.5,2],"tickCount":10,"labelOverlap":false,"labelExpr":"datum.value === 0 ? '0' : format(datum.value, '.1f')"},"title":null}}},
{"transform":[{"filter":"datum.ns >= 1"}],"mark":{"type":"text","fill":"#000","fontSize":22,"fontWeight":"bold","dy":8},"encoding":{"y":{"field":"hi","type":"quantitative","axis":{"values":[0,0.5,1,1.5,2],"tickCount":10,"labelOverlap":false,"labelExpr":"datum.value === 0 ? '0' : format(datum.value, '.1f')"},"title":null},"text":{"value":"*"}}},
{"transform":[{"filter":"datum.ns >= 2"}],"mark":{"type":"text","fill":"#000","fontSize":22,"fontWeight":"bold","dy":0},"encoding":{"y":{"field":"hi","type":"quantitative","axis":{"values":[0,0.5,1,1.5,2],"tickCount":10,"labelOverlap":false,"labelExpr":"datum.value === 0 ? '0' : format(datum.value, '.1f')"},"title":null},"text":{"value":"*"}}},
{"transform":[{"filter":"datum.ns >= 3"}],"mark":{"type":"text","fill":"#000","fontSize":22,"fontWeight":"bold","dy":-8},"encoding":{"y":{"field":"hi","type":"quantitative","axis":{"values":[0,0.5,1,1.5,2],"tickCount":10,"labelOverlap":false,"labelExpr":"datum.value === 0 ? '0' : format(datum.value, '.1f')"},"title":null},"text":{"value":"*"}}}
]},
{"width":18,"height":55,"data":{"name":"lega"},
"encoding":{"y":{"field":"cell","type":"nominal","sort":["EV","SOX17"],"scale":{"type":"point","padding":0,"range":[20,37]},"axis":null}},
"layer":[
{"mark":{"type":"point","shape":"M-1,-0.56L1,-0.56L1,0.56L-1,0.56Z","size":256,"filled":true,"opacity":1,"stroke":"#222","strokeWidth":1},"encoding":{"color":{"field":"cell","type":"nominal","scale":{"domain":["EV","SOX17"],"range":["#a5a5a5","#000000"]},"legend":null}}},
{"mark":{"type":"text","align":"left","baseline":"middle","dx":11,"fontSize":13.5,"fontWeight":"bold","fill":"#000"},"encoding":{"text":{"field":"label"}}}
]}
]
}
]
},
{
"spacing": -31,
"resolve": {"scale": {"xOffset": "independent", "yOffset": "independent"}},
"vconcat": [
{
"bounds": "flush", "spacing": 256,
"resolve": {"scale": {"xOffset": "independent", "yOffset": "independent"}},
"hconcat": [
{"width":141,"height":73,"data":{"name":"legb"},
"title":{"text":"b","anchor":"start","fontSize":20,"fontStyle":"normal","fontWeight":"bold","dx":-48,"offset":-1,"frame":"group"},
"encoding":{"y":{"field":"ip","type":"nominal","sort":["IP: SOX17","IP: IgG"],"scale":{"paddingInner":0,"paddingOuter":0.177},"axis":null}},
"layer":[
{"transform":[{"filter":"datum.s === 'SOX17-EV'"}],"mark":{"type":"point","shape":"M-1,-0.33L1,-0.33L1,0.33L-1,0.33Z","size":361,"filled":true,"opacity":1,"fill":"#ffffff","stroke":"#222","strokeWidth":1},"encoding":{"yOffset":{"field":"cell","type":"nominal","sort":["EV","SOX17"],"scale":{"domain":["EV","SOX17"],"paddingInner":0,"range":[5.5,25.5]}}}},
{"transform":[{"filter":"datum.s === 'SOX17-SOX17'"}],"mark":{"type":"point","shape":"M-1,-0.33L1,-0.33L1,0.33L-1,0.33Z","size":361,"filled":true,"opacity":1,"fill":"#000000","stroke":"#222","strokeWidth":1},"encoding":{"yOffset":{"field":"cell","type":"nominal","sort":["EV","SOX17"],"scale":{"domain":["EV","SOX17"],"paddingInner":0,"range":[5.5,25.5]}}}},
{"transform":[{"filter":"datum.s === 'IgG-EV'"}],"mark":{"type":"point","shape":"M-1,-0.33L1,-0.33L1,0.33L-1,0.33Z","size":361,"filled":true,"opacity":1,"fill":{"gradient":"linear","x1":0,"y1":0,"x2":1,"y2":1,"stops":[{"offset":0,"color":"#fff"},{"offset":0.1,"color":"#fff"},{"offset":0.1,"color":"#000"},{"offset":0.1667,"color":"#000"},{"offset":0.1667,"color":"#fff"},{"offset":0.2667,"color":"#fff"},{"offset":0.2667,"color":"#000"},{"offset":0.3333,"color":"#000"},{"offset":0.3333,"color":"#fff"},{"offset":0.4333,"color":"#fff"},{"offset":0.4333,"color":"#000"},{"offset":0.5,"color":"#000"},{"offset":0.5,"color":"#fff"},{"offset":0.6,"color":"#fff"},{"offset":0.6,"color":"#000"},{"offset":0.6667,"color":"#000"},{"offset":0.6667,"color":"#fff"},{"offset":0.7667,"color":"#fff"},{"offset":0.7667,"color":"#000"},{"offset":0.8333,"color":"#000"},{"offset":0.8333,"color":"#fff"},{"offset":0.9333,"color":"#fff"},{"offset":0.9333,"color":"#000"},{"offset":1,"color":"#000"}]},"stroke":"#222","strokeWidth":1},"encoding":{"yOffset":{"field":"cell","type":"nominal","sort":["EV","SOX17"],"scale":{"domain":["EV","SOX17"],"paddingInner":0,"range":[5.5,25.5]}}}},
{"transform":[{"filter":"datum.s === 'IgG-SOX17'"}],"mark":{"type":"point","shape":"M-1,-0.33L1,-0.33L1,0.33L-1,0.33Z","size":361,"filled":true,"opacity":1,"fill":{"gradient":"linear","x1":0,"y1":0,"x2":1,"y2":1,"stops":[{"offset":0,"color":"#999"},{"offset":0.1,"color":"#999"},{"offset":0.1,"color":"#222"},{"offset":0.1667,"color":"#222"},{"offset":0.1667,"color":"#999"},{"offset":0.2667,"color":"#999"},{"offset":0.2667,"color":"#222"},{"offset":0.3333,"color":"#222"},{"offset":0.3333,"color":"#999"},{"offset":0.4333,"color":"#999"},{"offset":0.4333,"color":"#222"},{"offset":0.5,"color":"#222"},{"offset":0.5,"color":"#999"},{"offset":0.6,"color":"#999"},{"offset":0.6,"color":"#222"},{"offset":0.6667,"color":"#222"},{"offset":0.6667,"color":"#999"},{"offset":0.7667,"color":"#999"},{"offset":0.7667,"color":"#222"},{"offset":0.8333,"color":"#222"},{"offset":0.8333,"color":"#999"},{"offset":0.9333,"color":"#999"},{"offset":0.9333,"color":"#222"},{"offset":1,"color":"#222"}]},"stroke":"#222","strokeWidth":1},"encoding":{"yOffset":{"field":"cell","type":"nominal","sort":["EV","SOX17"],"scale":{"domain":["EV","SOX17"],"paddingInner":0,"range":[5.5,25.5]}}}},
{"mark":{"type":"text","align":"left","baseline":"middle","dx":17.5,"fontSize":10,"fontWeight":"bold","fill":"#000"},"encoding":{"yOffset":{"field":"cell","type":"nominal","sort":["EV","SOX17"],"scale":{"domain":["EV","SOX17"],"paddingInner":0,"range":[5.5,25.5]}},"text":{"field":"label"}}},
{"transform":[{"filter":"datum.cell === 'EV'"}],"mark":{"type":"text","align":"right","baseline":"middle","dx":-21,"fontSize":12,"fontWeight":"bold","fill":"#000"},"encoding":{"text":{"field":"ip"}}},
{"transform":[{"filter":"datum.cell === 'EV'"}],"mark":{"type":"text","align":"left","baseline":"middle","dx":-19,"dy":1,"fontSize":15,"fontWeight":"normal","fill":"#000"},"encoding":{"text":{"value":"["}}}
]},
{"width":15,"height":42,"title":{"text":"c","anchor":"start","fontSize":20,"fontStyle":"normal","fontWeight":"bold","dx":-22,"offset":-28,"frame":"group"},"data":{"name":"lega"},
"encoding":{"y":{"field":"cell","type":"nominal","sort":["EV","SOX17"],"scale":{"type":"point","padding":0,"range":[14,28]},"axis":null}},
"layer":[
{"mark":{"type":"point","shape":"M-1,-0.53L1,-0.53L1,0.53L-1,0.53Z","size":225,"filled":true,"opacity":1,"stroke":"#222","strokeWidth":1},"encoding":{"color":{"field":"cell","type":"nominal","scale":{"domain":["EV","SOX17"],"range":["#a5a5a5","#000000"]},"legend":null}}},
{"mark":{"type":"text","align":"left","baseline":"middle","dx":10.5,"fontSize":13,"fontWeight":"bold","fill":"#000"},"encoding":{"text":{"field":"label"}}}
]}
]
},
{
"bounds": "flush", "spacing": 45,
"resolve": {"scale": {"xOffset": "independent", "yOffset": "independent"}},
"hconcat": [
{"width":350,"height":106,"data":{"name":"b"},
"encoding":{"x":{"field":"gene","type":"nominal","sort":["BRCA1","BRCA2","RAD51","KU80","p21","NFAT5","REV3L","SIRT1"],"scale":{"range":[-21,350],"paddingInner":0.15,"paddingOuter":0.02},"axis":{"labelAngle":0,"labelFontStyle":"italic","labelFontSize":10,"labelPadding":4},"title":null},
"xOffset":{"field":"s","type":"nominal","sort":["SOX17-EV","SOX17-SOX17","IgG-EV","IgG-SOX17"],"scale":{"domain":["SOX17-EV","SOX17-SOX17","IgG-EV","IgG-SOX17"]}}},
"layer":[
{"transform":[{"filter":"datum.s === 'SOX17-EV'"}],"mark":{"type":"bar","fill":"#ffffff","stroke":"#111","strokeWidth":1},"encoding":{"y":{"field":"v","type":"quantitative","scale":{"domain":[0,5]},"axis":{"values":[0,1,2,3,4,5],"tickCount":6,"format":"d","labelOverlap":false,"offset":21,"titleFontSize":13,"titlePadding":1},"title":"% of input"}}},
{"transform":[{"filter":"datum.s === 'SOX17-SOX17'"}],"mark":{"type":"bar","fill":"#000000","stroke":"#111","strokeWidth":1},"encoding":{"y":{"field":"v","type":"quantitative","axis":{"values":[0,1,2,3,4,5],"tickCount":6,"format":"d","labelOverlap":false,"offset":21,"titleFontSize":13,"titlePadding":1}}}},
{"transform":[{"filter":"datum.s === 'IgG-EV'"}],"mark":{"type":"bar","stroke":"#111","strokeWidth":1,"fill":{"gradient":"linear","x1":0,"y1":0,"x2":1,"y2":1,"stops":[{"offset":0,"color":"#fff"},{"offset":0.1,"color":"#fff"},{"offset":0.1,"color":"#000"},{"offset":0.1667,"color":"#000"},{"offset":0.1667,"color":"#fff"},{"offset":0.2667,"color":"#fff"},{"offset":0.2667,"color":"#000"},{"offset":0.3333,"color":"#000"},{"offset":0.3333,"color":"#fff"},{"offset":0.4333,"color":"#fff"},{"offset":0.4333,"color":"#000"},{"offset":0.5,"color":"#000"},{"offset":0.5,"color":"#fff"},{"offset":0.6,"color":"#fff"},{"offset":0.6,"color":"#000"},{"offset":0.6667,"color":"#000"},{"offset":0.6667,"color":"#fff"},{"offset":0.7667,"color":"#fff"},{"offset":0.7667,"color":"#000"},{"offset":0.8333,"color":"#000"},{"offset":0.8333,"color":"#fff"},{"offset":0.9333,"color":"#fff"},{"offset":0.9333,"color":"#000"},{"offset":1,"color":"#000"}]}},"encoding":{"y":{"field":"v","type":"quantitative","axis":{"values":[0,1,2,3,4,5],"tickCount":6,"format":"d","labelOverlap":false,"offset":21,"titleFontSize":13,"titlePadding":1}}}},
{"transform":[{"filter":"datum.s === 'IgG-SOX17'"}],"mark":{"type":"bar","stroke":"#111","strokeWidth":1,"fill":{"gradient":"linear","x1":0,"y1":0,"x2":1,"y2":1,"stops":[{"offset":0,"color":"#999"},{"offset":0.1,"color":"#999"},{"offset":0.1,"color":"#222"},{"offset":0.1667,"color":"#222"},{"offset":0.1667,"color":"#999"},{"offset":0.2667,"color":"#999"},{"offset":0.2667,"color":"#222"},{"offset":0.3333,"color":"#222"},{"offset":0.3333,"color":"#999"},{"offset":0.4333,"color":"#999"},{"offset":0.4333,"color":"#222"},{"offset":0.5,"color":"#222"},{"offset":0.5,"color":"#999"},{"offset":0.6,"color":"#999"},{"offset":0.6,"color":"#222"},{"offset":0.6667,"color":"#222"},{"offset":0.6667,"color":"#999"},{"offset":0.7667,"color":"#999"},{"offset":0.7667,"color":"#222"},{"offset":0.8333,"color":"#222"},{"offset":0.8333,"color":"#999"},{"offset":0.9333,"color":"#999"},{"offset":0.9333,"color":"#222"},{"offset":1,"color":"#222"}]}},"encoding":{"y":{"field":"v","type":"quantitative","axis":{"values":[0,1,2,3,4,5],"tickCount":6,"format":"d","labelOverlap":false,"offset":21,"titleFontSize":13,"titlePadding":1}}}},
{"transform":[{"filter":"datum.hi > datum.v"}],"mark":{"type":"rule","color":"#000"},"encoding":{"y":{"field":"v","type":"quantitative","axis":{"values":[0,1,2,3,4,5],"tickCount":6,"format":"d","labelOverlap":false,"offset":21,"titleFontSize":13,"titlePadding":1}},"y2":{"field":"hi"}}},
{"transform":[{"filter":"datum.hi > datum.v"}],"mark":{"type":"tick","color":"#000","thickness":1,"size":5},"encoding":{"y":{"field":"hi","type":"quantitative","axis":{"values":[0,1,2,3,4,5],"tickCount":6,"format":"d","labelOverlap":false,"offset":21,"titleFontSize":13,"titlePadding":1}}}},
{"transform":[{"filter":"datum.ns >= 1"}],"mark":{"type":"text","fill":"#000","fontSize":22,"fontWeight":"bold","dy":8},"encoding":{"y":{"field":"hi","type":"quantitative","axis":{"values":[0,1,2,3,4,5],"tickCount":6,"format":"d","labelOverlap":false,"offset":21,"titleFontSize":13,"titlePadding":1}},"text":{"value":"*"}}},
{"transform":[{"filter":"datum.ns >= 2"}],"mark":{"type":"text","fill":"#000","fontSize":22,"fontWeight":"bold","dy":0},"encoding":{"y":{"field":"hi","type":"quantitative","axis":{"values":[0,1,2,3,4,5],"tickCount":6,"format":"d","labelOverlap":false,"offset":21,"titleFontSize":13,"titlePadding":1}},"text":{"value":"*"}}},
{"transform":[{"filter":"datum.ns >= 3"}],"mark":{"type":"text","fill":"#000","fontSize":22,"fontWeight":"bold","dy":-8},"encoding":{"y":{"field":"hi","type":"quantitative","axis":{"values":[0,1,2,3,4,5],"tickCount":6,"format":"d","labelOverlap":false,"offset":21,"titleFontSize":13,"titlePadding":1}},"text":{"value":"*"}}}
]},
{"width":133,"height":93,"data":{"name":"c"},"transform":[{"filter":"datum.panel === 'p21'"}],"resolve":{"axis":{"x":"independent"}},
"encoding":{"x":{"field":"plasmid","type":"nominal","sort":["pGL3-Luc","pGL3-p21-Luc"],"scale":{"paddingInner":0.4,"paddingOuter":0.25},"axis":null},"xOffset":{"field":"cell","type":"nominal","sort":["EV","SOX17"]}},
"layer":[
{"mark":{"type":"bar","stroke":"#111","strokeWidth":1},"encoding":{"x":{"field":"plasmid","type":"nominal","sort":["pGL3-Luc","pGL3-p21-Luc"],"scale":{"paddingInner":0.4,"paddingOuter":0.25},"axis":{"orient":"bottom","labels":true,"domain":true,"labelAngle":0,"labelFontSize":10,"labelPadding":6},"title":null},"y":{"field":"v","type":"quantitative","scale":{"domain":[0,120]},"axis":{"values":[0,20,40,60,80,100,120],"tickCount":10,"format":"d","labelOverlap":false,"titleFontSize":10.7,"titlePadding":6,"titleY":42},"title":"Relative luciferase activity (%)"},"color":{"field":"cell","type":"nominal","scale":{"domain":["EV","SOX17"],"range":["#a5a5a5","#000000"]},"legend":null}}},
{"transform":[{"filter":"datum.hi > datum.v"}],"mark":{"type":"rule","color":"#000"},"encoding":{"x":{"field":"plasmid","type":"nominal","sort":["pGL3-Luc","pGL3-p21-Luc"],"scale":{"paddingInner":0.4,"paddingOuter":0.25},"title":"p21","axis":{"orient":"top","labels":false,"ticks":false,"domain":false,"titleY":-14,"titleFontSize":13}},"y":{"field":"v","type":"quantitative","axis":{"values":[0,20,40,60,80,100,120],"tickCount":10,"format":"d","labelOverlap":false,"titleFontSize":10.7,"titlePadding":6,"titleY":42}},"y2":{"field":"hi"}}},
{"transform":[{"filter":"datum.hi > datum.v"}],"mark":{"type":"tick","color":"#000","thickness":1,"size":10},"encoding":{"y":{"field":"hi","type":"quantitative","axis":{"values":[0,20,40,60,80,100,120],"tickCount":10,"format":"d","labelOverlap":false,"titleFontSize":10.7,"titlePadding":6,"titleY":42}}}},
{"transform":[{"filter":"datum.ns >= 1"}],"mark":{"type":"text","fill":"#000","fontSize":22,"fontWeight":"bold","dy":8},"encoding":{"y":{"field":"hi","type":"quantitative","axis":{"values":[0,20,40,60,80,100,120],"tickCount":10,"format":"d","labelOverlap":false,"titleFontSize":10.7,"titlePadding":6,"titleY":42}},"text":{"value":"*"}}},
{"transform":[{"filter":"datum.ns >= 2"}],"mark":{"type":"text","fill":"#000","fontSize":22,"fontWeight":"bold","dy":0},"encoding":{"y":{"field":"hi","type":"quantitative","axis":{"values":[0,20,40,60,80,100,120],"tickCount":10,"format":"d","labelOverlap":false,"titleFontSize":10.7,"titlePadding":6,"titleY":42}},"text":{"value":"*"}}},
{"transform":[{"filter":"datum.ns >= 3"}],"mark":{"type":"text","fill":"#000","fontSize":22,"fontWeight":"bold","dy":-8},"encoding":{"y":{"field":"hi","type":"quantitative","axis":{"values":[0,20,40,60,80,100,120],"tickCount":10,"format":"d","labelOverlap":false,"titleFontSize":10.7,"titlePadding":6,"titleY":42}},"text":{"value":"*"}}}
]},
{"width":127,"height":93,"data":{"name":"c"},"transform":[{"filter":"datum.panel === 'NFAT5'"}],"resolve":{"axis":{"x":"independent"}},
"encoding":{"x":{"field":"plasmid","type":"nominal","sort":["pGL3-Luc","pGL3-NFAT5-Luc"],"scale":{"paddingInner":0.4,"paddingOuter":0.15},"axis":null},"xOffset":{"field":"cell","type":"nominal","sort":["EV","SOX17"]}},
"layer":[
{"mark":{"type":"bar","stroke":"#111","strokeWidth":1},"encoding":{"x":{"field":"plasmid","type":"nominal","sort":["pGL3-Luc","pGL3-NFAT5-Luc"],"scale":{"paddingInner":0.4,"paddingOuter":0.15},"axis":{"orient":"bottom","labels":true,"domain":true,"labelAngle":0,"labelFontSize":10,"labelPadding":6},"title":null},"y":{"field":"v","type":"quantitative","scale":{"domain":[0,120]},"axis":{"values":[0,20,40,60,80,100,120],"tickCount":10,"format":"d","labelOverlap":false,"titleFontSize":10.7,"titlePadding":6,"titleY":42},"title":"Relative luciferase activity (%)"},"color":{"field":"cell","type":"nominal","scale":{"domain":["EV","SOX17"],"range":["#a5a5a5","#000000"]},"legend":null}}},
{"transform":[{"filter":"datum.hi > datum.v"}],"mark":{"type":"rule","color":"#000"},"encoding":{"x":{"field":"plasmid","type":"nominal","sort":["pGL3-Luc","pGL3-NFAT5-Luc"],"scale":{"paddingInner":0.4,"paddingOuter":0.15},"title":"NFAT5","axis":{"orient":"top","labels":false,"ticks":false,"domain":false,"titleY":-14,"titleFontSize":13}},"y":{"field":"v","type":"quantitative","axis":{"values":[0,20,40,60,80,100,120],"tickCount":10,"format":"d","labelOverlap":false,"titleFontSize":10.7,"titlePadding":6,"titleY":42}},"y2":{"field":"hi"}}},
{"transform":[{"filter":"datum.hi > datum.v"}],"mark":{"type":"tick","color":"#000","thickness":1,"size":10},"encoding":{"y":{"field":"hi","type":"quantitative","axis":{"values":[0,20,40,60,80,100,120],"tickCount":10,"format":"d","labelOverlap":false,"titleFontSize":10.7,"titlePadding":6,"titleY":42}}}},
{"transform":[{"filter":"datum.ns >= 1"}],"mark":{"type":"text","fill":"#000","fontSize":22,"fontWeight":"bold","dy":8},"encoding":{"y":{"field":"hi","type":"quantitative","axis":{"values":[0,20,40,60,80,100,120],"tickCount":10,"format":"d","labelOverlap":false,"titleFontSize":10.7,"titlePadding":6,"titleY":42}},"text":{"value":"*"}}},
{"transform":[{"filter":"datum.ns >= 2"}],"mark":{"type":"text","fill":"#000","fontSize":22,"fontWeight":"bold","dy":0},"encoding":{"y":{"field":"hi","type":"quantitative","axis":{"values":[0,20,40,60,80,100,120],"tickCount":10,"format":"d","labelOverlap":false,"titleFontSize":10.7,"titlePadding":6,"titleY":42}},"text":{"value":"*"}}},
{"transform":[{"filter":"datum.ns >= 3"}],"mark":{"type":"text","fill":"#000","fontSize":22,"fontWeight":"bold","dy":-8},"encoding":{"y":{"field":"hi","type":"quantitative","axis":{"values":[0,20,40,60,80,100,120],"tickCount":10,"format":"d","labelOverlap":false,"titleFontSize":10.7,"titlePadding":6,"titleY":42}},"text":{"value":"*"}}}
]}
]
}
]
}
],
"config": {
"font": "Liberation Sans",
"background": "white",
"view": {"stroke": null},
"axis": {"domainColor": "#000", "domainWidth": 1.2, "tickColor": "#000", "tickWidth": 1.2, "labelColor": "#000", "titleColor": "#000", "labelFont": "Liberation Sans", "titleFont": "Liberation Sans", "labelFontWeight": "bold", "titleFontWeight": "bold", "grid": false, "labelOverlap": false},
"axisY": {"tickSize": 4, "labelFontSize": 10, "labelPadding": 2, "titleFontSize": 11, "titlePadding": 4},
"axisX": {"ticks": false, "labelAngle": -45, "labelFontSize": 13, "labelPadding": 3},
"axisTop": {"titleFontSize": 14, "titleFontStyle": "italic", "titleFontWeight": "bold", "titleBaseline": "alphabetic", "titlePadding": 0},
"title": {"font": "Liberation Sans", "fontSize": 14, "fontStyle": "italic", "fontWeight": "bold", "color": "#000"},
"text": {"font": "Liberation Sans", "fontWeight": "bold", "color": "#000"}
}
}
